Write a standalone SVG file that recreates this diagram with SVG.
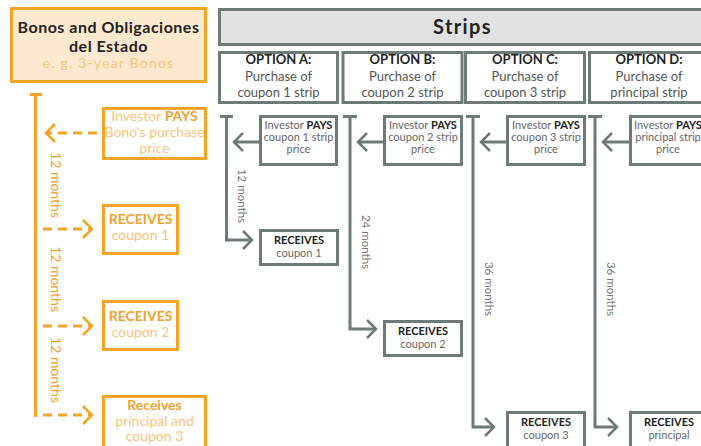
<svg xmlns="http://www.w3.org/2000/svg" width="701" height="446" viewBox="0 0 701 446">
<style>
text{font-family:Lato,"Liberation Sans",sans-serif;text-anchor:middle}
.ob{fill:none;stroke:#F5A322;stroke-width:3}
.gb{fill:#fff;stroke:#6C7B77;stroke-width:3}
.ol{fill:none;stroke:#F5A322;stroke-width:3}
.od{fill:none;stroke:#F5A322;stroke-width:3;stroke-dasharray:9 6}
.gl{fill:none;stroke:#6C7B77;stroke-width:3}
.mo{fill:none;stroke:#F5A322;stroke-width:2.5;stroke-dasharray:none}
.mg{fill:none;stroke:#6C7B77;stroke-width:2.5}
.t1{font-size:14px;fill:#F8C47A}
.t1b{font-weight:bold;fill:#F0A02E}
.om{font-size:14px;fill:#F0A02E}
.gt{font-size:11px;fill:#666}
.gtb{font-weight:bold;fill:#222}
.gm{font-size:11.5px;fill:#777}
.opt{font-size:13px;fill:#555}
</style>
<defs>
<marker id="ao" markerUnits="userSpaceOnUse" markerWidth="20" markerHeight="24" viewBox="-12 -12 14 24" refX="0" refY="0" orient="auto" overflow="visible"><path class="mo" d="M-9,-9 L0,0 L-9,9"/></marker>
<marker id="ag" markerUnits="userSpaceOnUse" markerWidth="20" markerHeight="24" viewBox="-12 -12 14 24" refX="0" refY="0" orient="auto" overflow="visible"><path class="mg" d="M-9,-9 L0,0 L-9,9"/></marker>
</defs>

<g id="connectors">
<path class="ol" d="M30,94.5 H42 M35.5,94 V417"/>
<path class="od" d="M97,133 H46" marker-end="url(#ao)"/>
<path class="od" d="M43,229 H92" marker-end="url(#ao)"/>
<path class="od" d="M43,326 H92" marker-end="url(#ao)"/>
<path class="od" d="M43,415 H92" marker-end="url(#ao)"/>
<path class="gl" d="M220,116.5 H233 M226.5,116 V240 H252" marker-end="url(#ag)"/>
<path class="gl" d="M260,142 H234" marker-end="url(#ag)"/>
<path class="gl" d="M343,116.5 H357 M350,116 V329 H376" marker-end="url(#ag)"/>
<path class="gl" d="M383,142 H358" marker-end="url(#ag)"/>
<path class="gl" d="M466,116.5 H480 M473,116 V427 H494" marker-end="url(#ag)"/>
<path class="gl" d="M507,142 H481" marker-end="url(#ag)"/>
<path class="gl" d="M588,116.5 H602 M595,116 V427 H617" marker-end="url(#ag)"/>
<path class="gl" d="M630,142 H603" marker-end="url(#ag)"/>
<text class="om" transform="translate(56,185) rotate(90)" dominant-baseline="central">12 months</text>
<text class="om" transform="translate(56,279) rotate(90)" dominant-baseline="central">12 months</text>
<text class="om" transform="translate(56,370) rotate(90)" dominant-baseline="central">12 months</text>
<text class="gm" transform="translate(242,196) rotate(90)" dominant-baseline="central">12 months</text>
<text class="gm" transform="translate(366,242) rotate(90)" dominant-baseline="central">24 months</text>
<text class="gm" transform="translate(489,289) rotate(90)" dominant-baseline="central">36 months</text>
<text class="gm" transform="translate(611,289) rotate(90)" dominant-baseline="central">36 months</text>
</g>

<g id="bonos">
<rect x="11.5" y="8.5" width="194" height="73" fill="#FDE9D0" stroke="#F5A322" stroke-width="3"/>
<text x="108.5" y="33" font-size="16" font-weight="bold" fill="#222" letter-spacing="0.5">Bonos and Obligaciones</text>
<text x="108.5" y="52" font-size="16" font-weight="bold" fill="#222" letter-spacing="0.5">del Estado</text>
<text x="108.5" y="68" font-size="14" fill="#F8C47A" letter-spacing="1.2">e. g. 3-year Bonos</text>
</g>

<g id="pays-bono">
<rect class="ob" x="103.5" y="108.5" width="102" height="50"/>
<text class="t1" x="154.5" y="121">Investor <tspan class="t1b">PAYS</tspan></text>
<text class="t1" x="154.5" y="137">Bono's purchase</text>
<text class="t1" x="154.5" y="153">price</text>
</g>
<g id="recv-o1">
<rect class="ob" x="103.5" y="205.5" width="74" height="48"/>
<text class="t1" x="140.5" y="224"><tspan class="t1b">RECEIVES</tspan></text>
<text class="t1" x="140.5" y="240">coupon 1</text>
</g>
<g id="recv-o2">
<rect class="ob" x="103.5" y="301.5" width="74" height="48"/>
<text class="t1" x="140.5" y="321"><tspan class="t1b">RECEIVES</tspan></text>
<text class="t1" x="140.5" y="337">coupon 2</text>
</g>
<g id="recv-o3">
<rect class="ob" x="103.5" y="396.5" width="102" height="60"/>
<text class="t1" x="154.5" y="410" font-size="13.5"><tspan class="t1b">Receives</tspan></text>
<text class="t1" x="154.5" y="425.5" font-size="13.5">principal and</text>
<text class="t1" x="154.5" y="441" font-size="13.5">coupon 3</text>
</g>

<g id="strips">
<rect x="219.5" y="9.5" width="500" height="35" fill="#E1E1E1" stroke="#6C7B77" stroke-width="3"/>
<text x="462.5" y="34" font-size="20" font-weight="bold" fill="#222" letter-spacing="1.4">Strips</text>
</g>

<g id="opt-a">
<rect class="gb" x="219.5" y="52.5" width="118" height="50"/>
<text class="opt" x="278.5" y="64"><tspan class="gtb">OPTION A:</tspan></text>
<text class="opt" x="278.5" y="81">Purchase of</text>
<text class="opt" x="278.5" y="97">coupon 1 strip</text>
</g>
<g id="opt-b">
<rect class="gb" x="343" y="52.5" width="119" height="50"/>
<text class="opt" x="402.5" y="64"><tspan class="gtb">OPTION B:</tspan></text>
<text class="opt" x="402.5" y="81">Purchase of</text>
<text class="opt" x="402.5" y="97">coupon 2 strip</text>
</g>
<g id="opt-c">
<rect class="gb" x="465.5" y="52.5" width="119" height="50"/>
<text class="opt" x="525" y="64"><tspan class="gtb">OPTION C:</tspan></text>
<text class="opt" x="525" y="81">Purchase of</text>
<text class="opt" x="525" y="97">coupon 3 strip</text>
</g>
<g id="opt-d">
<rect class="gb" x="589.5" y="52.5" width="119" height="50"/>
<text class="opt" x="649" y="64"><tspan class="gtb">OPTION D:</tspan></text>
<text class="opt" x="649" y="81">Purchase of</text>
<text class="opt" x="649" y="97">principal strip</text>
</g>

<g id="pays-a">
<rect class="gb" x="260.5" y="116.5" width="76" height="48"/>
<text class="gt" x="298.5" y="129">Investor <tspan class="gtb">PAYS</tspan></text>
<text class="gt" x="298.5" y="141">coupon 1 strip</text>
<text class="gt" x="298.5" y="153">price</text>
</g>
<g id="pays-b">
<rect class="gb" x="384.5" y="116.5" width="77" height="48"/>
<text class="gt" x="423" y="129">Investor <tspan class="gtb">PAYS</tspan></text>
<text class="gt" x="423" y="141">coupon 2 strip</text>
<text class="gt" x="423" y="153">price</text>
</g>
<g id="pays-c">
<rect class="gb" x="507.5" y="116.5" width="77" height="48"/>
<text class="gt" x="546" y="129">Investor <tspan class="gtb">PAYS</tspan></text>
<text class="gt" x="546" y="141">coupon 3 strip</text>
<text class="gt" x="546" y="153">price</text>
</g>
<g id="pays-d">
<rect class="gb" x="630.5" y="116.5" width="77" height="48"/>
<text class="gt" x="668" y="129">Investor <tspan class="gtb">PAYS</tspan></text>
<text class="gt" x="668" y="141">principal strip</text>
<text class="gt" x="668" y="153">price</text>
</g>

<g id="recv-a">
<rect class="gb" x="260.5" y="230.5" width="77" height="34"/>
<text class="gt" x="299" y="244"><tspan class="gtb">RECEIVES</tspan></text>
<text class="gt" x="299" y="257">coupon 1</text>
</g>
<g id="recv-b">
<rect class="gb" x="384.5" y="321.5" width="77" height="34"/>
<text class="gt" x="423" y="335"><tspan class="gtb">RECEIVES</tspan></text>
<text class="gt" x="423" y="348">coupon 2</text>
</g>
<g id="recv-c">
<rect class="gb" x="507.5" y="412.5" width="77" height="40"/>
<text class="gt" x="546" y="426"><tspan class="gtb">RECEIVES</tspan></text>
<text class="gt" x="546" y="439">coupon 3</text>
</g>
<g id="recv-d">
<rect class="gb" x="630.5" y="412.5" width="77" height="40"/>
<text class="gt" x="669" y="426"><tspan class="gtb">RECEIVES</tspan></text>
<text class="gt" x="669" y="439">principal</text>
</g>
</svg>
